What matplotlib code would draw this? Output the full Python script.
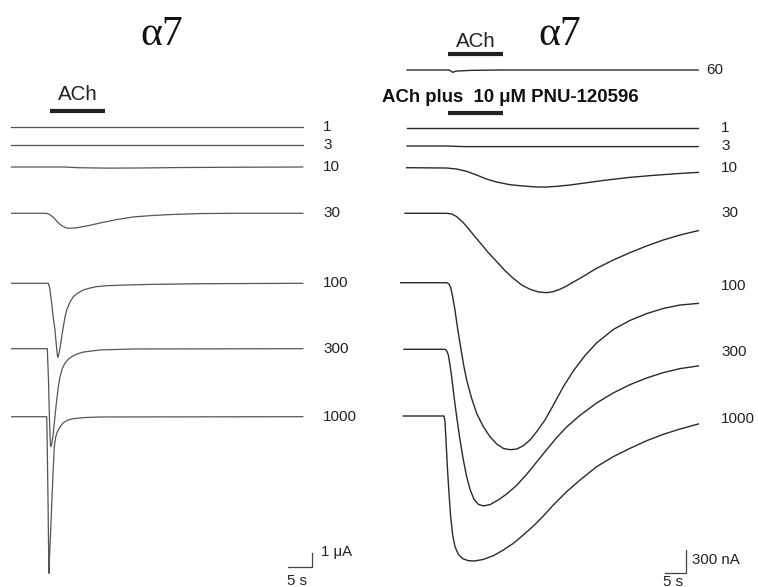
import matplotlib
matplotlib.use("Agg")
import matplotlib.pyplot as plt

# ---------------- DATA ----------------
# Left panel: alpha7, ACh alone (time in s, current in uA, relative to baseline)
left_labels = ["1", "3", "10", "30", "100", "300", "1000"]
left_t_1 = [0.1, 60.8]
left_v_1 = [0.0, 0.0]
left_t_3 = [0.1, 60.8]
left_v_3 = [0.0, 0.0]
left_t_10 = [0.1, 11.0, 14.0, 20.0, 27.0, 35.0, 45.0, 60.8]
left_v_10 = [0.0, 0.0, -0.05, -0.08, -0.07, -0.04, -0.02, 0.0]
left_t_30 = [0.14, 7.43, 8.13, 8.82, 9.51, 10.21, 10.90, 11.60, 12.29, 13.33, 15.07,
             16.81, 18.54, 22.01, 25.49, 28.96, 32.43, 39.38, 46.32, 60.8]
left_v_30 = [0.0, 0.0, -0.10, -0.29, -0.55, -0.79, -0.95, -1.05, -1.07, -1.05, -0.95,
             -0.83, -0.69, -0.45, -0.26, -0.17, -0.10, -0.02, 0.0, 0.0]
left_t_100 = [0.15, 7.77, 8.06, 8.48, 8.81, 9.17, 9.44, 9.65, 9.75, 9.94, 10.21, 10.56,
              10.9, 11.25, 11.6, 12.29, 12.98, 13.96, 15.06, 16.46, 17.85, 20.0, 24.0,
              28.96, 39.4, 60.8]
left_v_100 = [0.0, 0.0, -0.34, -1.43, -2.48, -3.34, -4.41, -5.12, -5.29, -5.12, -4.62,
              -3.84, -3.10, -2.41, -1.91, -1.34, -0.96, -0.69, -0.48, -0.34, -0.24,
              -0.17, -0.12, -0.08, -0.03, 0.0]
left_t_300 = [0.15, 7.56, 7.81, 8.02, 8.21, 8.31, 8.54, 8.81, 9.17, 9.52, 9.85, 10.21,
              10.73, 11.25, 11.88, 12.65, 13.75, 15.06, 18.54, 25.4, 60.8]
left_v_300 = [0.0, 0.0, -2.24, -5.09, -6.81, -7.0, -6.74, -6.04, -4.81, -3.66, -2.74,
              -2.0, -1.38, -1.04, -0.77, -0.57, -0.38, -0.24, -0.09, -0.02, 0.0]
left_t_1000 = [0.15, 7.44, 7.50, 7.71, 7.85, 7.92, 8.0, 8.33, 8.69, 9.02, 9.31, 9.65,
               10.21, 10.9, 11.88, 12.98, 15.4, 18.5, 60.8]
left_v_1000 = [0.0, 0.0, -0.95, -5.95, -9.88, -11.19, -10.24, -7.62, -4.52, -2.14,
               -1.45, -1.07, -0.74, -0.43, -0.24, -0.14, -0.06, -0.02, 0.0]
left_ach = (8.1, 19.6)

# Right panel: alpha7, ACh alone (60) and ACh plus 10 uM PNU-120596 (nA)
right_labels = ["60", "1", "3", "10", "30", "100", "300", "1000"]
right_t_60 = [0.5, 10.5, 11.4, 12.1, 15.5, 22.6, 69.8]
right_v_60 = [0.0, 0.0, -30.0, -15.0, -5.0, 0.0, 0.0]
right_t_1 = [0.5, 69.8]
right_v_1 = [0.0, 0.0]
right_t_3 = [0.5, 10.0, 14.0, 69.8]
right_v_3 = [0.0, 0.0, -8.0, -8.0]
right_t_10 = [0.40, 9.92, 12.30, 14.68, 17.06, 19.44, 21.83, 25.00, 28.17, 31.35, 33.73,
              36.11, 39.29, 43.25, 48.02, 53.57, 59.13, 64.68, 69.84]
right_v_10 = [0.0, -4.0, -17.0, -48.0, -96.0, -148.0, -187.0, -222.0, -239.0, -252.0,
              -252.0, -243.0, -226.0, -196.0, -161.0, -126.0, -100.0, -78.0, -61.0]
right_t_30 = [0.0, 9.92, 11.11, 12.30, 13.89, 15.87, 17.86, 19.84, 21.83, 23.81, 25.79,
              27.78, 29.76, 31.75, 33.73, 35.32, 36.90, 38.49, 40.08, 41.67, 45.63,
              49.60, 53.57, 57.54, 61.51, 65.48, 69.84]
right_v_30 = [0.0, 0.0, -8.7, -43.0, -122.0, -252.0, -383.0, -513.0, -630.0, -748.0,
              -848.0, -935.0, -991.0, -1026.0, -1035.0, -1022.0, -991.0, -948.0, -896.0,
              -848.0, -717.0, -609.0, -513.0, -426.0, -348.0, -283.0, -226.0]
right_t_100 = [-1.03, 9.92, 10.48, 10.87, 11.35, 11.90, 12.46, 13.10, 13.89, 14.68, 15.87,
               17.06, 18.65, 20.24, 21.83, 23.41, 25.00, 26.59, 28.17, 29.76, 31.35,
               33.33, 35.32, 37.70, 40.08, 42.86, 45.63, 49.60, 53.57, 57.54, 61.51,
               65.48, 69.84]
right_v_100 = [0.0, 0.0, -17.0, -61.0, -183.0, -357.0, -574.0, -791.0, -1052.0, -1270.0,
               -1509.0, -1704.0, -1878.0, -2009.0, -2104.0, -2161.0, -2178.0, -2170.0,
               -2126.0, -2052.0, -1944.0, -1791.0, -1596.0, -1357.0, -1150.0, -950.0,
               -785.0, -610.0, -492.0, -403.0, -336.0, -291.0, -270.0]
right_t_300 = [-0.24, 9.52, 9.92, 10.32, 10.71, 11.11, 11.67, 12.30, 13.10, 13.89, 14.68,
               15.48, 16.43, 17.46, 18.65, 20.24, 22.22, 24.21, 26.59, 28.97, 31.35,
               33.73, 36.11, 38.49, 41.67, 45.63, 49.60, 53.57, 57.54, 61.51, 65.48,
               69.84]
right_v_300 = [0.0, 0.0, -17.0, -74.0, -204.0, -357.0, -617.0, -878.0, -1183.0, -1443.0,
               -1661.0, -1826.0, -1957.0, -2022.0, -2043.0, -2026.0, -1965.0, -1887.0,
               -1774.0, -1630.0, -1470.0, -1309.0, -1152.0, -1013.0, -861.0, -700.0,
               -569.0, -461.0, -374.0, -304.0, -252.0, -217.0]
right_t_1000 = [-0.40, 9.29, 9.52, 9.76, 10.08, 10.48, 10.87, 11.35, 11.90, 12.70, 13.73,
                15.08, 16.67, 18.65, 21.03, 23.41, 25.79, 28.17, 30.56, 32.94, 35.32,
                38.49, 41.67, 45.63, 49.60, 53.57, 57.54, 61.51, 65.48, 69.84]
right_v_1000 = [0.0, 0.0, -74.0, -313.0, -661.0, -1009.0, -1313.0, -1552.0, -1704.0,
                -1804.0, -1861.0, -1887.0, -1891.0, -1870.0, -1822.0, -1748.0, -1661.0,
                -1552.0, -1435.0, -1304.0, -1161.0, -987.0, -835.0, -661.0, -530.0,
                -422.0, -322.0, -239.0, -170.0, -104.0]
right_ach = (10.2, 23.3)

# ---------------- LAYOUT ----------------
W, H = 758, 587
# left panel scale: px per s and px per uA; origin px of t=0
L_PXS, L_PXU, L_X0 = 4.8, 14.0, 11.0
# right panel scale: px per s and px per nA
R_PXS, R_PXU, R_X0 = 4.2, 23.0 / 300.0, 405.0

left_rows = [127.3, 145.0, 167.0, 213.3, 283.3, 348.7, 416.7]
right_rows = [70.0, 128.0, 146.0, 167.7, 213.3, 282.7, 349.3, 416.0]

fig = plt.figure(figsize=(W / 100, H / 100), dpi=100)
fig.patch.set_facecolor("white")

axL = fig.add_axes([0, 0, 1, 1])
axR = fig.add_axes([0, 0, 1, 1])
for ax in (axL, axR):
    ax.set_axis_off()
    ax.patch.set_alpha(0)

axL.set_xlim(-L_X0 / L_PXS, (W - L_X0) / L_PXS)
axL.set_ylim(-H / L_PXU, 0)
axR.set_xlim(-R_X0 / R_PXS, (W - R_X0) / R_PXS)
axR.set_ylim(-H / R_PXU, 0)

sans = ["Liberation Sans", "DejaVu Sans"]
serif = ["Liberation Serif", "DejaVu Serif"]

left_series = [(left_t_1, left_v_1), (left_t_3, left_v_3), (left_t_10, left_v_10),
               (left_t_30, left_v_30), (left_t_100, left_v_100),
               (left_t_300, left_v_300), (left_t_1000, left_v_1000)]
right_series = [(right_t_60, right_v_60), (right_t_1, right_v_1), (right_t_3, right_v_3),
                (right_t_10, right_v_10), (right_t_30, right_v_30),
                (right_t_100, right_v_100), (right_t_300, right_v_300),
                (right_t_1000, right_v_1000)]

for (t, v), row, lab in zip(left_series, left_rows, left_labels):
    off = -row / L_PXU
    axL.plot(t, [x + off for x in v], color="#555555", lw=0.9,
             solid_joinstyle="round")
    axL.text((323 - L_X0) / L_PXS, off, lab, fontsize=11, family=sans,
             ha="left", va="center", color="#222222")

for i, ((t, v), row, lab) in enumerate(zip(right_series, right_rows, right_labels)):
    off = -row / R_PXU
    axR.plot(t, [x + off for x in v], color="#2a2a2a", lw=1.0,
             solid_joinstyle="round")
    lx = 706 if lab == "60" else 721
    axR.text((lx - R_X0) / R_PXS, off - (3 if i >= 5 else 0) / R_PXU, lab,
             fontsize=11, family=sans, ha="left", va="center", color="#222222")

# ACh bars
axL.plot(left_ach, [-111 / L_PXU] * 2, color="#222222", lw=3.0, solid_capstyle="butt")
axL.text(sum(left_ach) / 2, -100 / L_PXU, "ACh", fontsize=14.8, family=sans,
         ha="center", va="baseline", color="#222222")
axR.plot(right_ach, [-53.5 / R_PXU] * 2, color="#222222", lw=3.0, solid_capstyle="butt")
axR.text(sum(right_ach) / 2, -47 / R_PXU, "ACh", fontsize=14.8, family=sans,
         ha="center", va="baseline", color="#222222")
axR.plot(right_ach, [-113.3 / R_PXU] * 2, color="#222222", lw=3.0, solid_capstyle="butt")
axR.text((382 - R_X0) / R_PXS, -102 / R_PXU, "ACh plus  10 μM PNU-120596",
         fontsize=13.4, family=sans, fontweight="bold", ha="left", va="baseline",
         color="#111111")

# Titles
fig.text(162 / W, 1 - 45 / H, "α7", fontsize=30, family=serif, ha="center",
         va="baseline", color="#111111")
fig.text(560 / W, 1 - 45 / H, "α7", fontsize=30, family=serif, ha="center",
         va="baseline", color="#111111")

# Scale bars
lcx, lcy = (312 - L_X0) / L_PXS, -567 / L_PXU
axL.plot([lcx - 5, lcx, lcx], [lcy, lcy, lcy + 1], color="#444444", lw=0.9)
axL.text(lcx + 9 / L_PXS, lcy + 0.5 + 8 / L_PXU, "1 μA", fontsize=10.8, family=sans,
         ha="left", va="center", color="#222222")
axL.text(lcx - 5 - 1 / L_PXS, lcy - 18 / L_PXU, "5 s", fontsize=10.8, family=sans,
         ha="left", va="baseline", color="#222222")

rcx, rcy = (686 - R_X0) / R_PXS, -573 / R_PXU
axR.plot([rcx - 5, rcx, rcx], [rcy, rcy, rcy + 300], color="#444444", lw=0.9)
axR.text(rcx + 6 / R_PXS, rcy + 150 + 1 / R_PXU, "300 nA", fontsize=10.8, family=sans,
         ha="left", va="center", color="#222222")
axR.text(rcx - 5 - 2 / R_PXS, rcy - 12.5 / R_PXU, "5 s", fontsize=10.8, family=sans,
         ha="left", va="baseline", color="#222222")

fig.savefig("out.png", dpi=100, facecolor="white")
